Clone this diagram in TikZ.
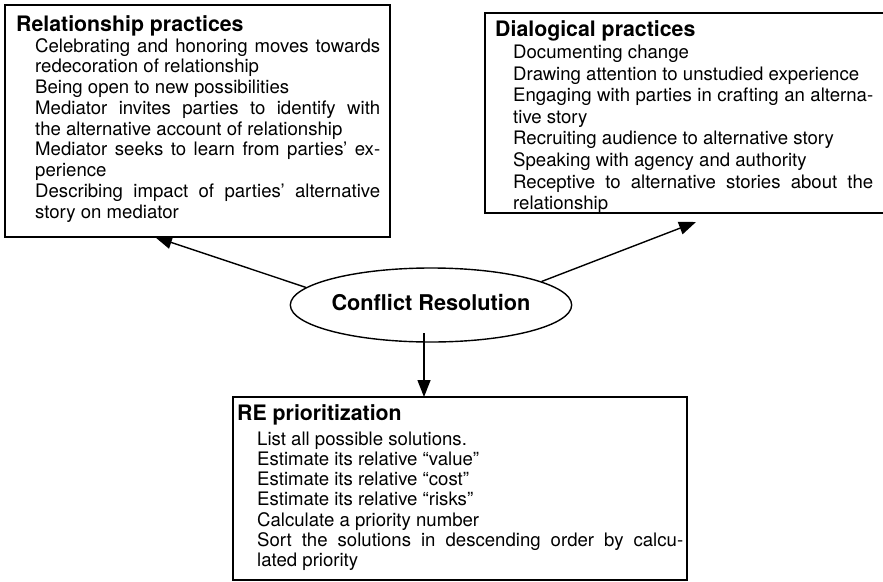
\documentclass[tikz,border=0pt]{standalone}
\usepackage{fontspec}
\setmainfont{TeX Gyre Heros}
\usetikzlibrary{shapes.geometric,arrows.meta}
\begin{document}
\begin{tikzpicture}[x=1pt,y=-1pt,
  boxframe/.style={draw=black, line width=1.4pt, rectangle, inner sep=0pt, outer sep=0pt, anchor=north west},
  titletext/.style={anchor=base west, inner sep=0pt, font=\fontsize{21.3}{24}\selectfont\bfseries},
  bodytext/.style={anchor=base west, inner sep=0pt, font=\fontsize{18.6}{#1}\selectfont},
  arr/.style={line width=1.4pt, -{Triangle[length=17pt,width=13pt]}}]
\useasboundingbox (0,0) rectangle (883,581);
\clip (0,0) rectangle (883,581);

% boxes
\node[boxframe, minimum width=385pt, minimum height=232pt] (lb) at (5,5) {};
\node[boxframe, minimum width=420pt, minimum height=200pt] (rb) at (485,13) {};
\node[boxframe, minimum width=454pt, minimum height=183pt] (bb) at (233,397) {};

% left box text
\node[titletext] (lbt) at (16,31) {Relationship practices};
\node[bodytext=20.75] (lbb) at (35,52) {\vtop{%
\hbox to 345pt{Celebrating and honoring moves towards}
\hbox{redecoration of relationship}
\hbox{Being open to new possibilities}
\hbox to 345pt{Mediator invites parties to identify with}
\hbox{the alternative account of relationship}
\hbox to 345pt{Mediator seeks to learn from parties’ ex-}
\hbox{perience}
\hbox to 345pt{Describing impact of parties’ alternative}
\hbox{story on mediator}}};

% right box text
\node[titletext] (rbt) at (495,36) {Dialogical practices};
\begin{scope}
\clip (rb.north west) rectangle (rb.south east);
\node[bodytext=21.6] (rbb) at (513,58.5) {\vtop{%
\hbox{Documenting change}
\hbox{Drawing attention to unstudied experience}
\hbox to 360pt{Engaging with parties in crafting an alterna-}
\hbox{tive story}
\hbox{Recruiting audience to alternative story}
\hbox{Speaking with agency and authority}
\hbox to 360pt{Receptive to alternative stories about the}
\hbox{relationship}}};
\end{scope}
\draw[line width=1.4pt] (rb.south west) -- (rb.south east);

% bottom box text
\node[titletext] (bbt) at (237,420) {RE prioritization};
\node[bodytext=20.3] (bbb) at (257,445) {\vtop{%
\hbox{List all possible solutions.}
\hbox{Estimate its relative “value”}
\hbox{Estimate its relative “cost”}
\hbox{Estimate its relative “risks”}
\hbox{Calculate a priority number}
\hbox to 426pt{Sort the solutions in descending order by calcu-}
\hbox{lated priority}}};

% central ellipse
\node[ellipse, draw=black, line width=1.4pt, minimum width=272pt, minimum height=74pt,
      inner sep=0pt, text depth=6pt, font=\fontsize{21.7}{24}\selectfont\bfseries] (cr) at (431,305) {Conflict Resolution};

% connectors
\coordinate (ltip) at (155,237);
\coordinate (rtip) at (696,222);
\coordinate (dstart) at (424,333);
\draw[arr] (cr.172) -- (ltip);
\draw[arr] (cr.12) -- (rtip);
\draw[arr] (dstart) -- (dstart |- bb.north);
\end{tikzpicture}
\end{document}
